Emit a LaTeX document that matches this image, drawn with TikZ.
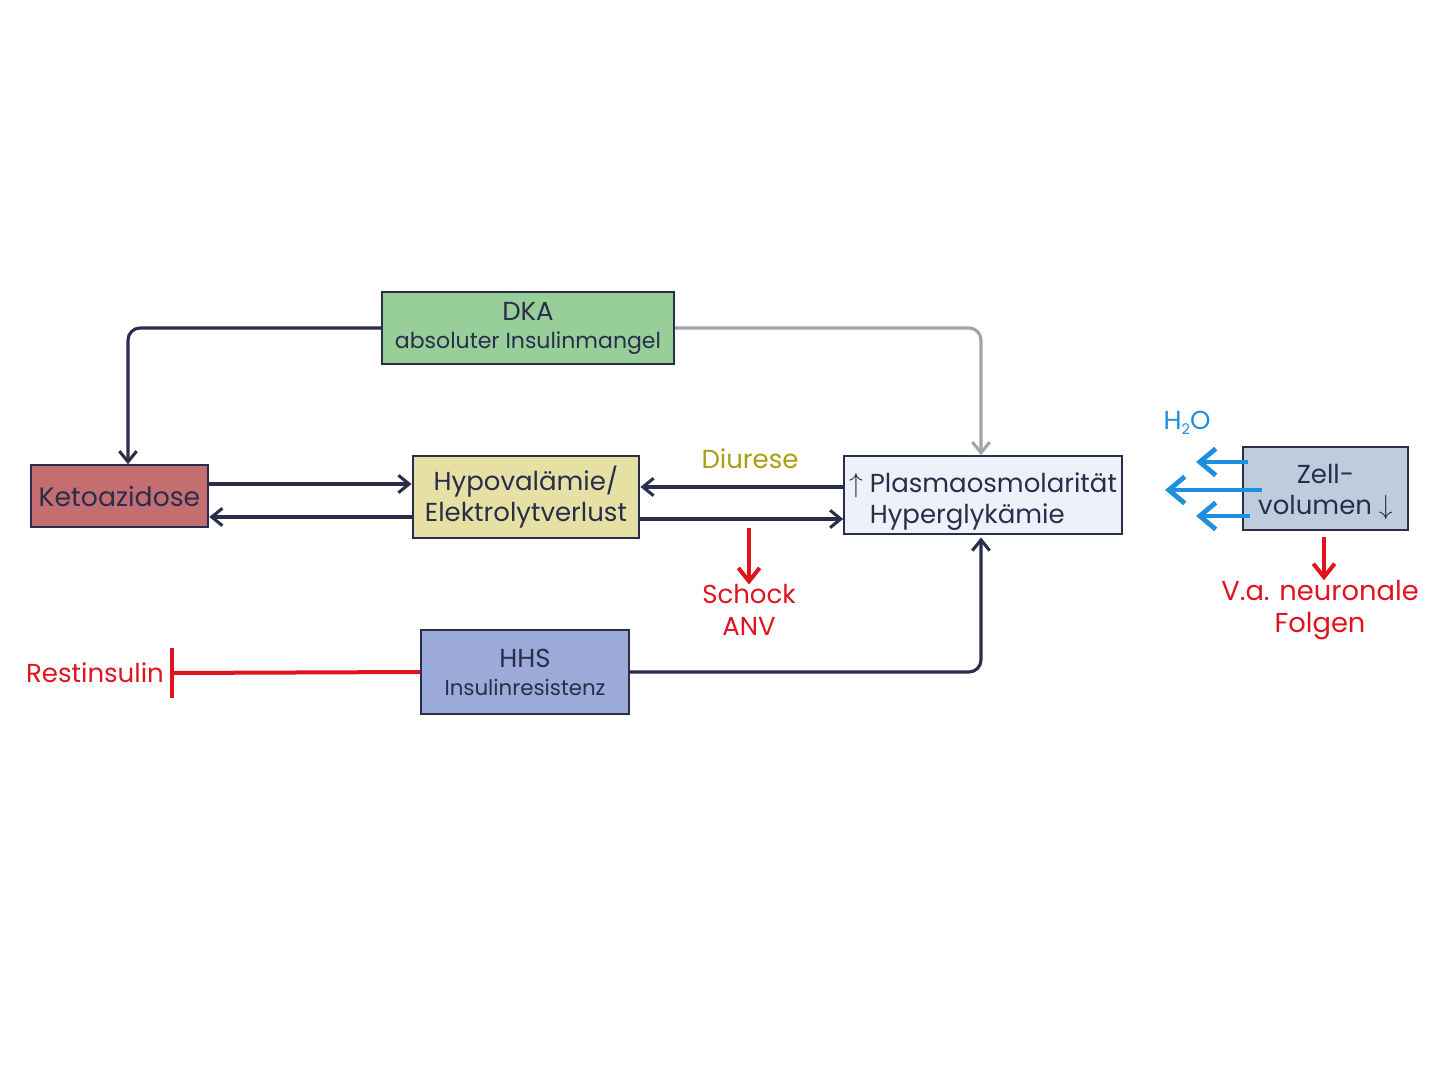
\documentclass[tikz,border=0pt]{standalone}
\usepackage{fontspec}
\setmainfont{Poppins}
\usetikzlibrary{arrows.meta}
\definecolor{navy}{HTML}{2A2D4C}
\definecolor{grayln}{HTML}{A2A2AA}
\definecolor{redc}{HTML}{E0141E}
\definecolor{bluec}{HTML}{1E8FE0}
\definecolor{olivec}{HTML}{A8A012}
\definecolor{fgreen}{HTML}{98CE98}
\definecolor{frose}{HTML}{C56E72}
\definecolor{fyellow}{HTML}{E6E0A4}
\definecolor{flav}{HTML}{EEF0FA}
\definecolor{fsteel}{HTML}{BDCDDD}
\definecolor{fblue}{HTML}{9BAAD8}
\tikzset{
  box/.style={draw=navy, line width=1.7pt, anchor=center, inner sep=0pt, align=center, text=navy},
  conn/.style={navy, line width=2.3pt, rounded corners=9pt},
  tipn/.style={-{Straight Barb[length=8pt,width=13pt,line width=2.3pt]}},
  tipr/.style={-{Straight Barb[length=10pt,width=16pt,line width=3pt]}},
  tipb/.style={-{Straight Barb[length=12pt,width=20pt,line width=3.6pt]}},
  redln/.style={redc, line width=3pt},
  blueln/.style={bluec, line width=3.6pt, tipb},
  lbl/.style={align=center, inner sep=0pt},
  big/.style={font=\fontsize{19.5}{23.5}\selectfont}
}
\begin{document}
\begin{tikzpicture}[x=0.75pt,y=-0.75pt]
\useasboundingbox (0,0) rectangle (1440,1080);
\fill[white] (0,0) rectangle (1440,1080);
% boxes
\node[box, fill=fgreen, minimum width=219pt, minimum height=54pt, font=\fontsize{19.5}{21}\selectfont] (dka) at (528,328)
  {DKA\\{\fontsize{16.5}{21}\selectfont absoluter Insulinmangel}};
\node[box, fill=frose, minimum width=133pt, minimum height=46pt, big, font=\fontsize{20}{23.5}\selectfont] (keto) at (119.5,496)
  {Ketoazidose};
\node[box, fill=fyellow, minimum width=170pt, minimum height=62pt, big] (hypo) at (526,497)
  {Hypovalämie/\\Elektrolytverlust};
\node[box, fill=flav, minimum width=208pt, minimum height=58pt, big, align=left] (plasma) at (983,495)
  {\rule{0pt}{25pt}$\uparrow$ Plasmaosmolarität\\\phantom{$\uparrow$ }Hyperglykämie};
\node[box, fill=fsteel, minimum width=124pt, minimum height=62pt, big] (zell) at (1325.5,488.5)
  {\rule{0pt}{20pt}Zell-\\volumen $\downarrow$};
\node[box, fill=fblue, minimum width=156pt, minimum height=63pt, font=\fontsize{19.5}{21}\selectfont] (hhs) at (525,672)
  {HHS\\{\fontsize{16}{21}\selectfont Insulinresistenz}};
% labels
\node[lbl, text=olivec, big] (diur) at (750,459) {Diurese};
\node[lbl, text=redc, big] (schock) at (749,610) {Schock\\ANV};
\node[lbl, text=redc, big, font=\fontsize{20.5}{23.5}\selectfont] (vaneu) at (1320,610) {V.a. neuronale\\Folgen};
\node[lbl, text=redc, big] (rest) at (95,673) {Restinsulin};
\node[lbl, text=bluec, big] (h2o) at (1187,423) {H\raisebox{-0.35ex}{\fontsize{11}{11}\selectfont 2}O};
% connectors
\draw[conn, tipn] (dka.west) -| (keto.north -| 128,0);
\draw[conn, grayln, tipn] (dka.east) -| (plasma.north -| 981,0);
\draw[conn, tipn] (hhs.east) -| ([yshift=-2pt]plasma.south -| 981,0);
\draw[conn, tipn] (keto.east |- 212,484) -- (hypo.west |- 0,484);
\draw[conn, tipn] (hypo.west |- 0,517) -- (keto.east |- 214,517);
\draw[conn, tipn] (plasma.west |- 0,487) -- (hypo.east |- 642,487);
\draw[conn, tipn] (hypo.east |- 642,519) -- (plasma.west |- 0,519);
% red
\coordinate (rbar) at (172,673);
\draw[redln] (hhs.west) -- (rbar);
\draw[redln] (172,648) -- (172,698);
\coordinate (s1) at (749,528);
\draw[redln, tipr] (s1) -- (schock.north);
\coordinate (z1) at (1324,537);
\draw[redln, tipr] (z1) -- (vaneu.north -| 1324,0);
% blue
\coordinate (b1) at (1248,462);
\coordinate (b2) at (1262,490);
\coordinate (b3) at (1250,516);
\draw[blueln] (b1) -- ++(-52,0);
\draw[blueln] (b2) -- ++(-97,0);
\draw[blueln] (b3) -- ++(-54,0);
\end{tikzpicture}
\end{document}
